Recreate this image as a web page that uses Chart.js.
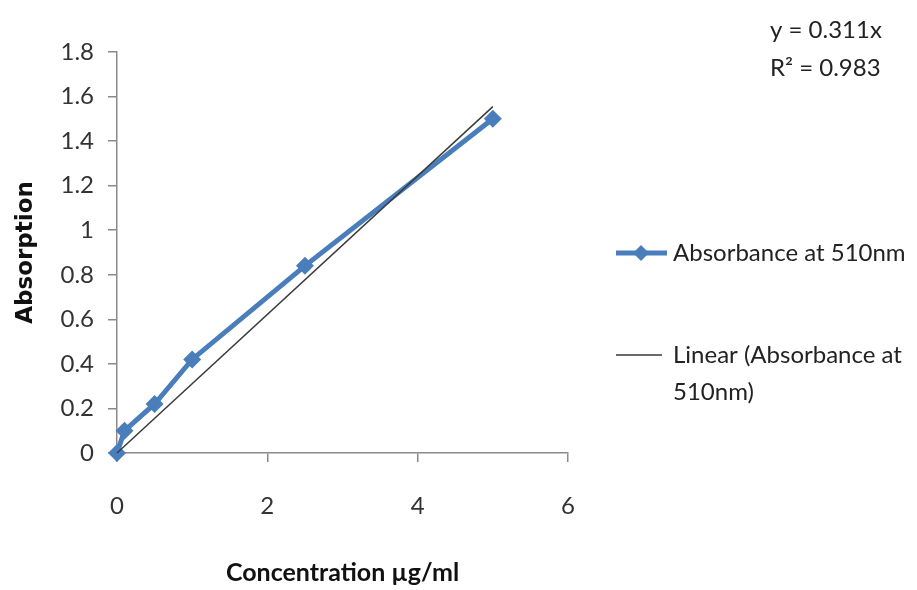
<!DOCTYPE html>
<html><head><meta charset="utf-8">
<script src="https://cdn.jsdelivr.net/npm/chart.js@4"></script>
<style>html,body{margin:0;padding:0;background:#fff}#wrap{width:917px;height:590px}</style>
</head><body><div id="wrap"><canvas id="c" width="917" height="590"></canvas></div>
<script>
const concentration = [0, 0.1, 0.5, 1, 2.5, 5];
const absorbance = [0, 0.1, 0.22, 0.42, 0.84, 1.5];
const trendX = [0, 5];
const trendY = [0, 1.555];
const seriesLabel = "Absorbance at 510nm";
const trendLabel = "Linear (Absorbance at 510nm)";
const equationLines = ["y = 0.311x", "R² = 0.983"];
const xTitle = "Concentration µg/ml";
const yTitle = "Absorption";

const FONT = "Lato, 'Open Sans', sans-serif";
const BLUE = "#4a7ebb";

const legendPlugin = {
  id: 'customLegend',
  afterDraw(chart) {
    const ctx = chart.ctx;
    ctx.save();
    ctx.font = "24px " + FONT;
    ctx.fillStyle = "#222";
    ctx.textBaseline = "middle";
    ctx.textAlign = "left";
    // item 1
    let y = 253;
    ctx.strokeStyle = BLUE; ctx.lineWidth = 5;
    ctx.beginPath(); ctx.moveTo(616, y); ctx.lineTo(667, y); ctx.stroke();
    ctx.fillStyle = BLUE;
    ctx.beginPath(); ctx.moveTo(641, y-8); ctx.lineTo(649, y); ctx.lineTo(641, y+8); ctx.lineTo(633, y); ctx.closePath(); ctx.fill();
    ctx.fillStyle = "#222";
    ctx.fillText(chart.data.datasets[0].label, 673, y);
    // item 2
    y = 355;
    ctx.strokeStyle = "#3a3a3a"; ctx.lineWidth = 1.5;
    ctx.beginPath(); ctx.moveTo(616, y); ctx.lineTo(662, y); ctx.stroke();
    const t = chart.data.datasets[1].label;
    const cut = t.lastIndexOf(" ");
    ctx.fillText(t.slice(0, cut), 673, y);
    ctx.fillText(t.slice(cut + 1), 673, y + 37);
    // equation
    ctx.fillText(equationLines[0], 770, 30);
    ctx.fillText(equationLines[1], 770, 68);
    ctx.restore();
  }
};

new Chart(document.getElementById('c'), {
  type: 'scatter',
  data: {
    datasets: [
      {
        label: seriesLabel,
        data: concentration.map((x, i) => ({x, y: absorbance[i]})),
        showLine: true,
        clip: false,
        borderColor: BLUE,
        backgroundColor: BLUE,
        borderWidth: 5,
        pointStyle: 'rectRot',
        pointRadius: 9,
        pointHoverRadius: 9,
        pointBorderWidth: 0,
        order: 1
      },
      {
        label: trendLabel,
        data: trendX.map((x, i) => ({x, y: trendY[i]})),
        showLine: true,
        clip: false,
        borderColor: "#3a3a3a",
        borderWidth: 1.5,
        pointRadius: 0,
        order: 0
      }
    ]
  },
  options: {
    responsive: false,
    animation: false,
    events: [],
    layout: { padding: { left: 0, right: 349, top: 52, bottom: 0 } },
    plugins: { legend: { display: false }, tooltip: { enabled: false } },
    scales: {
      x: {
        type: 'linear', min: 0, max: 6,
        afterFit(s) { s.height = 137; },
        ticks: { stepSize: 2, padding: 30, color: "#333", font: { family: FONT, size: 24 } },
        grid: { drawOnChartArea: false, drawTicks: true, tickLength: 9, color: "#8a8a8a", lineWidth: 1.5 },
        border: { display: true, color: "#8a8a8a", width: 1.5 },
        title: { display: true, text: xTitle, color: "#111", padding: { top: 0, bottom: 2 }, font: { family: FONT, size: 25, weight: 'bold' } }
      },
      y: {
        type: 'linear', min: 0, max: 1.8,
        afterFit(s) { s.width = 117; },
        ticks: { stepSize: 0.2, padding: 14, color: "#333", font: { family: FONT, size: 24 },
          callback: v => Number(v.toFixed(1)).toString() },
        grid: { drawOnChartArea: false, drawTicks: true, tickLength: 9, color: "#8a8a8a", lineWidth: 1.5 },
        border: { display: true, color: "#8a8a8a", width: 1.5 },
        title: { display: true, text: yTitle, color: "#111", padding: { top: 12, bottom: 0 }, font: { family: "'DejaVu Sans', sans-serif", size: 23, weight: 'bold' } }
      }
    }
  },
  plugins: [legendPlugin]
});
</script>
</body></html>
